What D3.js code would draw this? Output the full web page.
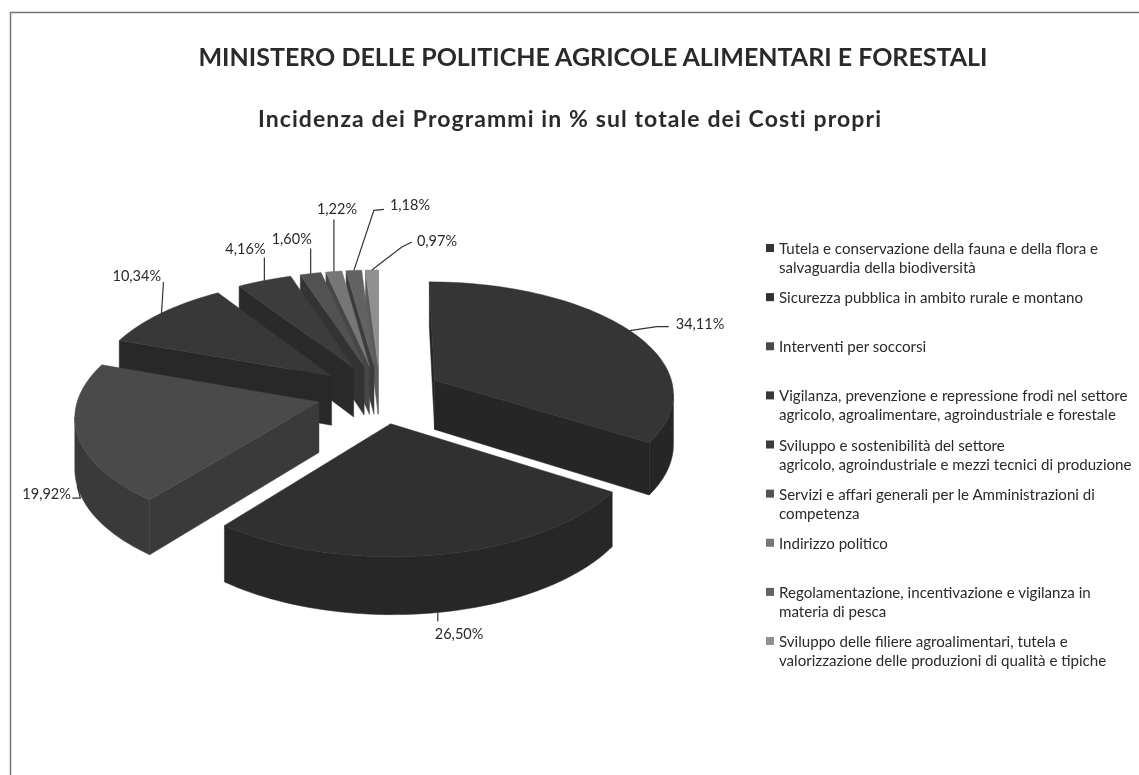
<!DOCTYPE html>
<html>
<head>
<meta charset="utf-8">
<script src="https://cdn.jsdelivr.net/npm/d3@7"></script>
<style>
  html, body { margin: 0; background: #fff; }
  svg { display: block; filter: blur(0.45px); }
  text { font-family: Lato, "Open Sans", sans-serif; fill: #2a2a2a; }
</style>
</head>
<body>
<div class="canvas"></div>
<script>
const programmi = [
  ['Tutela e conservazione della fauna e della flora e', 'salvaguardia della biodiversità'],
  ['Sicurezza pubblica in ambito rurale e montano'],
  ['Interventi per soccorsi'],
  ['Vigilanza, prevenzione e repressione frodi nel settore', 'agricolo, agroalimentare, agroindustriale e forestale'],
  ['Sviluppo e sostenibilità del settore', 'agricolo, agroindustriale e mezzi tecnici di produzione'],
  ['Servizi e affari generali per le Amministrazioni di', 'competenza'],
  ['Indirizzo politico'],
  ['Regolamentazione, incentivazione e vigilanza in', 'materia di pesca'],
  ['Sviluppo delle filiere agroalimentari, tutela e', 'valorizzazione delle produzioni di qualità e tipiche']
]
const valori = [34.11, 26.50, 19.92, 10.34, 4.16, 1.60, 1.22, 1.18, 0.97]

const coloriTop = ['#353535', '#303030', '#4a4a4a', '#383838', '#3c3c3c', '#525252', '#767676', '#626262', '#909090']
const coloriSide = ['#262626', '#272727', '#3a3a3a', '#282828', '#2a2a2a', '#333333', '#474747', '#3c3c3c', '#5c5c5c']

// leader bends and label start, relative to the rim point of each slice
const leaders = [
  [[27, -4], [39, -4]],
  [[0, 9]],
  [[3, 12], [-5, 12]],
  [[2, -31]],
  [[0, -23]],
  [[0, -25]],
  [[0, -52]],
  [[20, -60], [30, -61]],
  [[30, -23], [40, -28]]
]
const labelOff = [[46, -7], [-3, 22], [-55, 8], [-49, -37], [-39, -32], [-39, -35], [-17, -63], [36, -65], [45, -29]]
// the two front labels hang from the foot of the wall
const fromFoot = [false, true, true, false, false, false, false, false, false]

const dims = { width: 1139, height: 775 }
const pie3d = { cx: 380, cy: 394, r: 240, explode: 63, tilt: 0.4655, persp: 0.00045, h: 50 }

const svg = d3.select('.canvas')
  .append('svg')
  .attr('width', dims.width)
  .attr('height', dims.height)

// frame of the scanned page
svg.append('path')
  .attr('d', `M10.5,${dims.height}V12.5H${dims.width}`)
  .attr('fill', 'none')
  .attr('stroke', '#777')
  .attr('stroke-width', 1.5)

svg.append('text')
  .attr('x', 593).attr('y', 66)
  .attr('text-anchor', 'middle')
  .attr('font-size', 25)
  .attr('font-weight', 700)
  .text('MINISTERO DELLE POLITICHE AGRICOLE ALIMENTARI E FORESTALI')

svg.append('text')
  .attr('x', 570).attr('y', 127)
  .attr('text-anchor', 'middle')
  .attr('font-size', 23)
  .attr('font-weight', 700)
  .attr('letter-spacing', 1.1)
  .text('Incidenza dei Programmi in % sul totale dei Costi propri')

// world (x, depth, height) to screen
const project = (x, y, z) => {
  const s = 1 / (1 - pie3d.persp * y)
  return [pie3d.cx + x * s, pie3d.cy + pie3d.tilt * y * s + z * s]
}

const arcs = d3.pie().sort(null).value(d => d)(valori)
  .map((d, i) => ({ ...d, i, mid: (d.startAngle + d.endAngle) / 2 }))

const world = (d, a, r) => [
  pie3d.explode * Math.sin(d.mid) + r * Math.sin(a),
  -pie3d.explode * Math.cos(d.mid) - r * Math.cos(a)
]

const line = d3.line()

// back slices first
const drawOrder = [8, 7, 6, 5, 4, 3, 2, 0, 1]

const graph = svg.append('g')

drawOrder.map(i => arcs[i]).forEach(d => {
  const g = graph.append('g').attr('class', 'slice')
  const steps = Math.max(4, Math.ceil((d.endAngle - d.startAngle) / 0.03))
  const angles = d3.range(steps + 1).map(k => d.startAngle + (d.endAngle - d.startAngle) * k / steps)
  const rim = angles.map(a => world(d, a, pie3d.r))
  const apex = world(d, 0, 0)

  const top = p => project(p[0], p[1], 0)
  const bottom = p => project(p[0], p[1], pie3d.h)

  const wall = pts => g.append('path')
    .attr('d', line(pts) + 'Z')
    .attr('fill', coloriSide[d.i])
    .attr('stroke', coloriSide[d.i])
    .attr('stroke-width', 0.5)

  // clockwise walls only, the others look away from the viewer
  const faces = pts => d3.polygonArea(pts) < 0

  const sideA = [top(apex), bottom(apex), bottom(rim[0]), top(rim[0])]
  const sideB = [top(rim[steps]), bottom(rim[steps]), bottom(apex), top(apex)]
  if (faces(sideA)) wall(sideA)
  if (faces(sideB)) wall(sideB)

  const front = d3.pairs(rim).filter(([a, b]) => faces([top(a), bottom(a), bottom(b), top(b)]))
  if (front.length) {
    const run = [front[0][0], ...front.map(s => s[1])]
    wall([...run.map(top), ...run.slice().reverse().map(bottom)])
  }

  g.append('path')
    .attr('d', line([top(apex), ...rim.map(top)]) + 'Z')
    .attr('fill', coloriTop[d.i])
    .attr('stroke', coloriTop[d.i])
    .attr('stroke-width', 0.5)
    .attr('stroke-linejoin', 'round')
})

// data labels
const labels = svg.append('g')
arcs.forEach(d => {
  const p = world(d, d.mid, pie3d.r)
  const a = project(p[0], p[1], fromFoot[d.i] ? pie3d.h : 0)
  const pts = [a, ...leaders[d.i].map(o => [a[0] + o[0], a[1] + o[1]])]
  labels.append('path')
    .attr('d', line(pts))
    .attr('fill', 'none')
    .attr('stroke', '#333')
    .attr('stroke-width', 1.2)
  labels.append('text')
    .attr('x', a[0] + labelOff[d.i][0])
    .attr('y', a[1] + labelOff[d.i][1] + 5)
    .attr('font-size', 14.5)
    .text(d3.format('.2f')(d.value).replace('.', ',') + '%')
})

// legend
const rowY = d3.scaleLinear().domain([0, 8]).range([248, 641])
const legend = svg.append('g')
const rows = legend.selectAll('g')
  .data(programmi)
  .enter()
  .append('g')
  .attr('transform', (d, i) => `translate(766, ${rowY(i)})`)

rows.append('rect')
  .attr('x', 0).attr('y', -4)
  .attr('width', 8).attr('height', 8)
  .attr('fill', (d, i) => coloriTop[i])

rows.append('text')
  .attr('font-size', 15.1)
  .selectAll('tspan')
  .data(d => d)
  .enter()
  .append('tspan')
  .attr('x', 13)
  .attr('y', (d, i) => 6 + i * 19)
  .text(d => d)
</script>
</body>
</html>
